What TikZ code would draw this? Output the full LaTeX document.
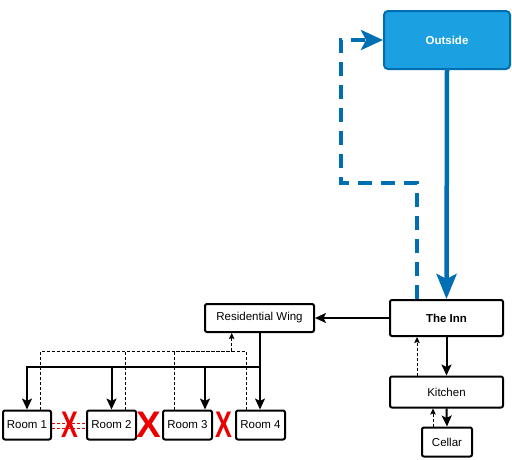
\documentclass[tikz,border=0pt]{standalone}
\usepackage{fontspec}
\setmainfont{Liberation Sans}
\usetikzlibrary{arrows.meta}

\begin{document}
\begin{tikzpicture}[x=1pt,y=-1pt,
    room/.style={draw, line width=2pt, rounded corners=2pt, fill=white, font=\fontsize{11.5}{13}\selectfont, minimum height=29pt, inner sep=1pt},
    link/.style={line width=2pt, -{Stealth[length=11pt,width=10pt,inset=2.5pt]}},
    backlink/.style={line width=0.8pt, dash pattern=on 3pt off 2pt},
    backarrow/.style={backlink, -{Stealth[length=6pt,width=5.5pt,inset=1pt]}},
    redx/.style={text=xred, font=\fontsize{37}{37}\selectfont\bfseries, inner sep=0pt}]
            \definecolor{bluefill}{RGB}{27,161,226}
            \definecolor{blueline}{RGB}{0,110,178}
            \definecolor{xred}{RGB}{235,0,0}
            \useasboundingbox (0,0) rectangle (512,459);

            % Outside and the inn
            \node[room, fill=bluefill, draw=blueline, text=white, font=\fontsize{11.5}{13}\selectfont\bfseries, minimum width=126pt, minimum height=58pt, rounded corners=4pt] (outside) at (447,40) {Outside};
            \node[room, font=\fontsize{11.5}{13}\selectfont\bfseries, minimum width=113pt, minimum height=36pt] (inn) at (446.5,318) {The Inn};
            \node[room, minimum width=113pt, minimum height=31pt] (kitchen) at (446.5,392) {Kitchen};
            \node[room, minimum width=50pt] (cellar) at (447,442) {Cellar};

            % Residential wing and rooms
            \node[room, minimum width=109pt, minimum height=28pt] (wing) at (259.5,318) {Residential Wing};
            \node[room, minimum width=48pt] (room1) at (27,425) {Room 1};
            \node[room, minimum width=49pt] (room2) at (111.5,425) {Room 2};
            \node[room, minimum width=49pt] (room3) at (187.5,425) {Room 3};
            \node[room, minimum width=49pt] (room4) at (260.5,425) {Room 4};
            \coordinate (split) at (260,367);
            \coordinate (back) at (231.7,351);

            % blue connectors
            \draw[blueline, line width=4.5pt, -{Stealth[length=25pt,width=20pt,inset=5pt]}] (outside.south) -- (inn.north);
            \draw[blueline, line width=4pt, dash pattern=on 14pt off 9pt, -{Stealth[length=22pt,width=20pt,inset=5pt]}] ([xshift=-29.5pt]inn.north) |- (341,183) |- (outside.west);

            % inn, kitchen, cellar
            \draw[link] (inn.west) -- (wing.east);
            \draw[link] (inn.south) -- (kitchen.north);
            \draw[backarrow] ([xshift=-29.5pt]kitchen.north) -- ([xshift=-29.5pt]inn.south);
            \draw[link] (kitchen.south) -- (cellar.north);
            \draw[backarrow] ([xshift=-14pt]cellar.north) -- ([xshift=-14pt]cellar.north |- kitchen.south);

            % wing to rooms
            \draw[link] (wing.south -| split) -- (room4.north -| split);
            \draw[link] (split) -| (room1.north);
            \draw[link] (split) -| (room2.north);
            \draw[link] (split) -| ([xshift=17.5pt]room3.north);

            % rooms back to wing
            \draw[backlink] ([xshift=13pt]room1.north) |- (back);
            \draw[backlink] ([xshift=14pt]room2.north) |- (back);
            \draw[backlink] ([xshift=-13pt]room3.north) |- (back);
            \draw[backlink] ([xshift=-14.5pt]room4.north) |- (back);
            \draw[backarrow] (back) -- (back |- wing.south);

            % blocked doors
            \draw[xred, line width=0.6pt, dash pattern=on 3pt off 2pt] ([yshift=-3pt]room1.east) -- ([yshift=-3pt]room2.west);
            \draw[xred, line width=0.6pt, dash pattern=on 3pt off 2pt] ([yshift=1.5pt]room1.east) -- ([yshift=1.5pt]room2.west);
            \node[redx, xscale=0.68] (x12) at (69.7,424.5) {X};
            \node[redx] (x23) at (149.2,424.5) {X};
            \node[redx, xscale=0.68] (x34) at (223.7,424.5) {X};
        \end{tikzpicture}
\end{document}
